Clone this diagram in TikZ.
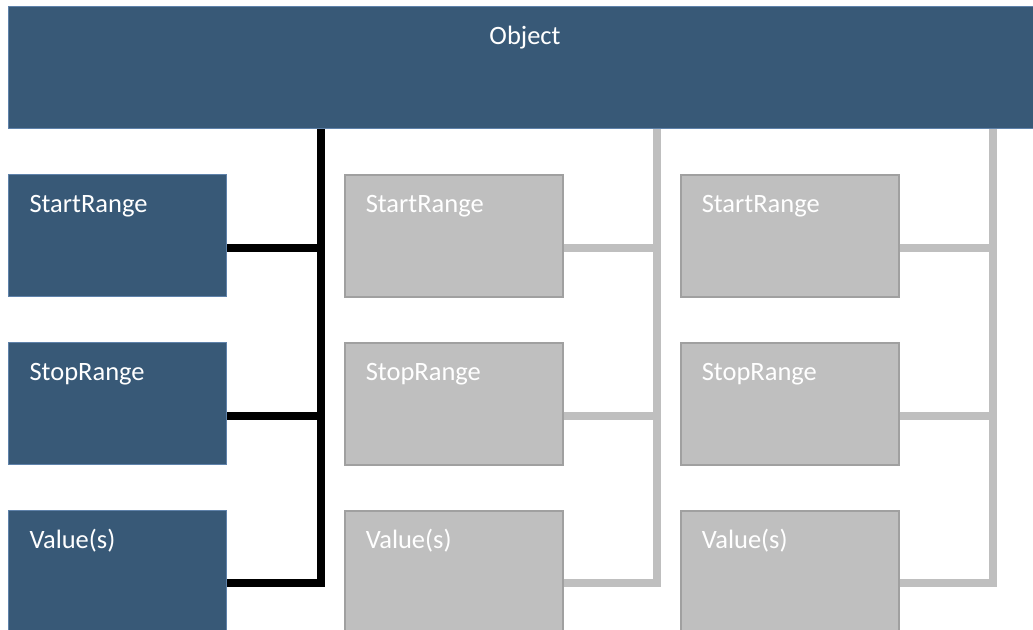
\documentclass[tikz,border=0pt]{standalone}
\usepackage{fontspec}
\setmainfont{Carlito}
\usetikzlibrary{calc}
\definecolor{objblue}{RGB}{56,89,119}
\definecolor{objedge}{RGB}{95,130,170}
\definecolor{offgray}{RGB}{191,191,191}
\definecolor{offedge}{RGB}{160,160,160}

\begin{document}
\begin{tikzpicture}[
            x=1pt, y=-1pt,
            font=\fontsize{26.5}{30}\selectfont,
            box/.style={anchor=north west, inner xsep=21pt, inner ysep=0pt,
                text width=176pt, align=left, text height=38pt, text depth=84pt,
                text=white},
            onbox/.style={box, fill=objblue, draw=objedge, line width=1pt},
            offbox/.style={box, fill=offgray, draw=offedge, line width=1.5pt},
            onwire/.style={black, line width=7.5pt, line join=miter},
            offwire/.style={offgray, line width=7.5pt, line join=miter}
        ]
            \useasboundingbox (0,0) rectangle (1033,629);

            % Objekt oben
            \node[box, fill=objblue, draw=objedge, line width=1pt, text width=991pt,
                align=center] (obj) at (8,6) {Object};

            % Drei Spalten: Start, Stop, Werte
            \foreach \c/\x/\sty in {1/8/on, 2/344/off, 3/680/off}{
                \node[\sty box] (start\c) at (\x,174) {StartRange};
                \node[\sty box] (stop\c) at (\x,342) {StopRange};
                \node[\sty box] (val\c) at (\x,510) {Value(s)};

                % Sammelleitung
                \coordinate (bus\c) at ($(\x,583)+(313,0)$);
                \draw[\sty wire] (obj.south -| bus\c) -- (bus\c) -- (val\c.east |- bus\c);
                \draw[\sty wire] (start\c.east |- 0,248) -- (bus\c |- 0,248);
                \draw[\sty wire] (stop\c.east |- 0,416) -- (bus\c |- 0,416);
            }

        \end{tikzpicture}
\end{document}
